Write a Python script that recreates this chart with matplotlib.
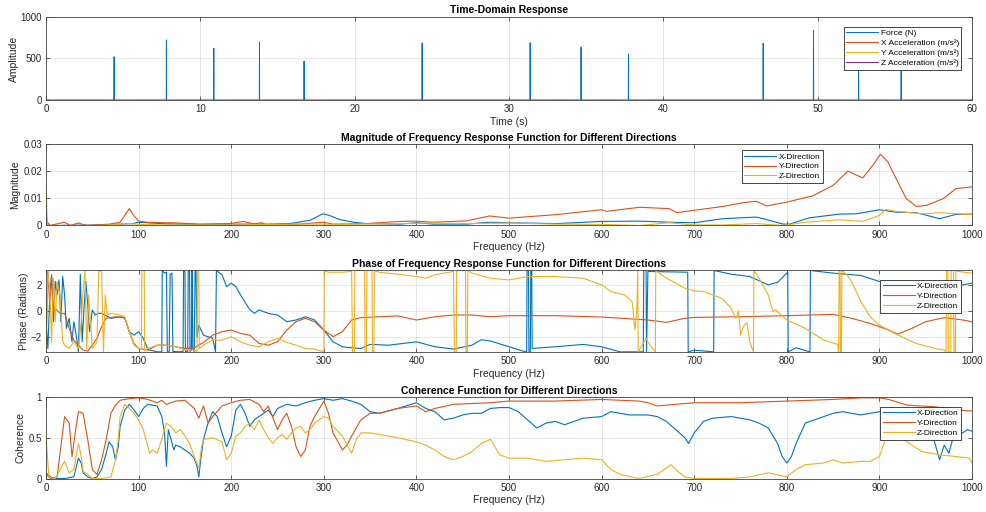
import matplotlib
matplotlib.use("Agg")
import matplotlib.pyplot as plt

plt.rcParams['font.family'] = ['Liberation Sans', 'DejaVu Sans']

# colours (MATLAB default order)
C_BLUE = '#0072BD'
C_ORANGE = '#D95319'
C_YELLOW = '#EDB120'
C_PURPLE = '#7E2F8E'
TXT = '#262626'

# ---------------- time domain ----------------
hit_times = [4.41, 7.80, 10.87, 13.83, 16.72, 24.37, 31.37, 34.67, 37.74, 46.47, 49.73, 52.65, 55.41]
hit_force = [520, 723, 622, 699, 467, 687, 690, 638, 552, 683, 837, 600, 640]
acc_t = [0, 60]
acc_x = [0, 0]
acc_y = [0, 0]
acc_z = [0, 0]
time_labels = ['Force (N)', 'X Acceleration (m/s\u00b2)', 'Y Acceleration (m/s\u00b2)', 'Z Acceleration (m/s\u00b2)']

# ---------------- FRF magnitude ----------------
mag_x_f = [0, 2, 58, 94, 100, 109, 130, 166, 202, 238, 263, 285, 299, 306, 317, 332, 346, 382, 400, 418, 454,
           479, 500, 551, 600, 641, 673, 700, 731, 767, 778, 796, 803, 824, 857, 875, 900, 918, 940, 965, 983, 1000]
mag_x = [0.0043, 0.0, 0.0002, 0.0007, 0.0012, 0.001, 0.0006, 0.0004, 0.0005, 0.0005, 0.0007, 0.0019, 0.0043,
         0.0037, 0.0022, 0.0012, 0.0007, 0.0005, 0.001, 0.0005, 0.0005, 0.0012, 0.001, 0.0007, 0.0015, 0.0016,
         0.0012, 0.001, 0.0025, 0.0031, 0.0022, 0.0005, 0.0005, 0.0028, 0.0042, 0.0043, 0.0058, 0.0049, 0.0047,
         0.0025, 0.0041, 0.0042]
mag_y_f = [0, 4, 20, 26, 35, 44, 69, 80, 85, 90, 94, 100, 109, 127, 137, 166, 199, 213, 224, 233, 238, 274, 299,
           310, 346, 382, 400, 418, 454, 479, 500, 551, 600, 605, 641, 673, 681, 700, 731, 753, 767, 778, 800, 828,
           850, 866, 882, 893, 901, 909, 918, 929, 940, 951, 969, 983, 1000]
mag_y = [0.002, 0.0, 0.0012, 0.0, 0.0009, 0.0, 0.0005, 0.0012, 0.0037, 0.0062, 0.004, 0.0016, 0.0012, 0.001,
         0.001, 0.0005, 0.0007, 0.0015, 0.0006, 0.001, 0.0002, 0.0005, 0.0012, 0.0005, 0.0007, 0.0015, 0.0016,
         0.0012, 0.0017, 0.0035, 0.0027, 0.004, 0.0058, 0.0052, 0.0067, 0.0062, 0.0047, 0.0056, 0.007, 0.0084,
         0.0089, 0.0072, 0.0086, 0.0109, 0.0148, 0.02, 0.0175, 0.0222, 0.0262, 0.0235, 0.0173, 0.0099, 0.007,
         0.0074, 0.0099, 0.0136, 0.0142]
mag_z_f = [0, 1.4, 58, 90, 101, 130, 202, 274, 299, 310, 382, 418, 454, 479, 500, 551, 600, 641, 673, 700, 731,
           767, 796, 820, 857, 882, 900, 907, 918, 947, 965, 1000]
mag_z = [0.0148, 0.0, 0.0, 0.0007, 0.0004, 0.0002, 0.0002, 0.0005, 0.0005, 0.0004, 0.0007, 0.0009, 0.0007,
         0.0008, 0.0009, 0.0005, 0.0004, 0.0, 0.001, 0.0002, 0.0002, 0.0007, 0.0, 0.0012, 0.0021, 0.0015, 0.0037,
         0.0059, 0.0052, 0.0043, 0.0047, 0.004]

# ---------------- FRF phase ----------------
ph_x_f = [0, 2, 4, 6, 8, 10, 12, 14, 16, 18, 20, 22, 25, 28, 30, 32, 35, 37, 39, 41, 43, 45, 47, 50, 53, 56, 60,
          70, 80, 85, 90, 95, 100, 105, 110, 120, 125, 125.5, 128, 130, 131, 133, 134, 136, 137, 145, 148, 148.5,
          150, 150.5, 153, 153.5, 155, 155.5, 157, 157.5, 158, 158.5, 160, 161, 162, 163, 165, 170, 180, 183, 184,
          190, 195, 200, 205, 210, 220, 225, 230, 240, 250, 260, 270, 280, 290, 300, 310, 320, 330, 340, 350, 370,
          400, 420, 440, 460, 470, 480, 500, 515, 519, 519.5, 521, 521.5, 523, 523.5, 524.5, 525, 550, 580, 600,
          620, 645, 645.5, 648, 648.5, 650, 690, 693, 693.5, 700, 720, 721, 721.5, 740, 760, 780, 790, 800, 801,
          801.5, 810, 825, 825.5, 850, 880, 900, 920, 940, 960, 980, 1000]
ph_x = [-0.82, -2.87, 1.23, 2.77, -0.82, 2.26, 1.23, 2.38, -0.82, 2.64, 1.23, -1.33, -0.56, -2.36, -0.82, -1.59,
        -3.13, 2.82, -2.36, 0.2, 2.26, 0.46, -1.59, 0.08, -0.31, -0.18, -0.18, -0.56, -0.44, -0.56, -1.59, -1.85,
        -1.59, -2.1, -2.95, -3.13, -3.13, 3.1, 2.9, 2.97, -3.13, -3.13, 2.8, 2.9, -3.1, -3.13, -3.1, 3.1, 3.0,
        -3.1, -3.1, 3.1, 3.1, -3.1, -3.0, 3.1, 3.0, -2.9, -3.1, 3.1, 3.0, -2.0, -1.1, -1.85, -2.1, -3.13, 3.1,
        2.77, 1.87, 2.13, 1.87, 1.23, 0.1, -0.18, 0.08, -0.18, -0.31, -0.82, -0.69, -0.44, -0.69, -1.46, -2.36,
        -2.74, -2.82, -2.87, -2.56, -2.62, -2.36, -2.74, -2.92, -2.62, -2.2, -2.3, -2.74, -3.07, -3.13, 3.1, 3.1,
        -3.13, -3.13, 3.1, 3.1, -2.87, -2.74, -2.56, -2.74, -3.13, -3.13, 3.1, 3.1, -3.13, 3.03, 2.97, 2.97,
        -3.13, -3.0, -3.13, -3.13, 3.1, 2.82, 2.64, 2.0, 2.2, 2.9, 3.0, -3.13, -2.82, -3.13, 3.1, 2.9, 2.72,
        2.26, 1.87, 2.0, 2.13, 1.87, 2.13]
ph_y_f = [0, 2, 4, 6, 8, 10, 15, 20, 25, 30, 35, 40, 45, 50, 55, 60, 65, 75, 85, 90, 95, 100, 110, 120, 130, 150,
          160, 170, 180, 190, 200, 210, 220, 230, 240, 250, 260, 270, 280, 290, 300, 310, 320, 330, 340, 360, 380,
          400, 420, 440, 460, 480, 500, 550, 600, 650, 670, 690, 700, 750, 800, 850, 870, 890, 910, 920, 935, 950,
          970, 990, 1000]
ph_y = [-2.62, 3.03, 0.46, 2.77, -0.05, 0.2, -0.18, -0.18, -1.33, -2.23, -2.62, -3.0, -3.08, -2.62, -2.1, -1.2,
        -0.56, -0.44, -0.51, -1.59, -2.49, -2.87, -3.0, -2.62, -2.62, -2.87, -2.82, -2.41, -1.85, -1.59, -1.46,
        -1.72, -1.85, -2.49, -2.62, -2.36, -1.46, -0.82, -0.56, -0.82, -1.46, -1.97, -1.59, -0.69, -0.51, -0.44,
        -0.38, -0.69, -0.44, -0.31, -0.31, -0.44, -0.36, -0.36, -0.46, -0.69, -0.87, -0.56, -0.49, -0.44, -0.36,
        -0.26, -0.56, -0.95, -1.46, -1.77, -1.33, -0.82, -0.51, -0.69, -0.82]
ph_z_f = [0, 2, 4, 6, 8, 10, 12, 15, 18, 20, 25, 30, 35, 38, 40, 42, 44, 46, 50, 55, 57, 60, 62, 64, 66, 70, 80,
          85, 90, 95, 100, 103, 103.5, 106, 106.5, 110, 120, 130, 140, 150, 160, 163, 163.5, 165, 165.5, 170, 180,
          190, 200, 210, 220, 230, 240, 250, 260, 270, 280, 290, 300, 300.5, 305, 320, 330, 331, 333, 333.5, 344,
          344.5, 346, 346.5, 352, 352.5, 354, 354.5, 360, 380, 400, 410, 420, 440, 441, 443, 443.5, 453, 453.5,
          455, 455.5, 460, 480, 500, 520, 550, 580, 600, 610, 625, 633, 636, 638, 639, 639.5, 648, 652, 658,
          658.5, 670, 680, 690, 700, 710, 720, 730, 740, 745, 748, 750, 753, 757, 760, 764, 764.5, 770, 780, 785,
          788, 790, 800, 820, 840, 855, 856, 856.5, 857.5, 858, 859, 859.5, 865, 870, 880, 890, 900, 920, 940,
          960, 970, 972, 972.5, 974, 974.5, 977, 977.5, 980, 980.5, 982, 982.5, 985, 1000]
ph_z = [-3.13, 2.77, 1.74, -2.36, 2.51, -0.82, 2.26, 1.23, -2.36, -2.62, -2.87, -2.36, -2.87, -0.82, 1.49, 3.1,
        -2.87, 1.23, -2.87, -2.36, 3.1, 3.03, -3.13, 1.23, -0.31, -0.18, -0.31, -0.44, -1.59, -2.62, -2.87, -2.9,
        3.1, 3.1, -3.0, -2.87, -2.62, -2.62, -2.74, -2.95, -3.0, -3.13, 3.1, 3.0, -2.9, -2.62, -2.23, -2.23,
        -1.97, -2.36, -2.62, -2.74, -2.36, -2.1, -2.41, -2.62, -2.87, -2.92, -3.13, 3.1, 2.97, 2.97, 3.03, -3.13,
        -3.1, 3.1, 3.1, -3.1, -3.1, 3.1, 3.1, -3.1, -3.1, 3.1, 2.97, 2.82, 2.64, 2.51, 2.77, 3.03, -3.13, -3.13,
        3.1, 3.1, -3.13, -3.13, 3.1, 2.9, 2.51, 2.38, 2.64, 2.64, 2.51, 2.0, 1.49, 1.23, 0.7, -1.46, 0.0, 3.1,
        -3.13, -2.1, -2.6, -3.13, 3.1, 2.51, 2.13, 1.74, 1.54, 1.49, 1.23, 0.97, 0.2, -0.56, 0.0, -1.85, -1.2,
        -0.9, -2.36, -3.13, 3.1, 2.51, 1.23, -0.05, 0.1, -0.05, -0.69, -1.33, -2.23, -2.56, -3.13, 3.1, 3.1,
        -3.13, -3.13, 3.1, 2.77, 2.26, 0.72, -0.44, -1.08, -1.85, -2.49, -2.87, -3.0, -3.13, 3.1, 3.1, -3.13,
        -3.13, 3.1, 3.1, -3.13, -3.13, 3.1, 3.03, 2.9]

# ---------------- coherence ----------------
coh_x_f = [0, 5, 10, 20, 30, 35, 38, 40, 45, 50, 55, 60, 65, 68, 72, 75, 78, 80, 85, 90, 95, 100, 105, 110, 120,
           125, 128, 130, 132, 135, 138, 140, 145, 150, 155, 160, 163, 165, 167, 170, 175, 180, 185, 190, 195,
           200, 205, 210, 215, 220, 225, 230, 240, 245, 250, 260, 270, 280, 290, 300, 310, 320, 330, 340, 350,
           360, 380, 400, 410, 420, 430, 440, 450, 460, 470, 480, 490, 500, 510, 520, 530, 540, 550, 560, 570,
           580, 600, 610, 630, 650, 660, 670, 680, 690, 694, 700, 710, 720, 740, 760, 770, 780, 790, 795, 800,
           805, 810, 820, 840, 850, 860, 870, 880, 900, 920, 940, 955, 960, 965, 970, 975, 980, 990, 995, 1000]
coh_x = [0.07, 0.02, 0.0, 0.0, 0.02, 0.25, 0.19, 0.07, 0.02, 0.0, 0.02, 0.11, 0.31, 0.45, 0.39, 0.23, 0.39,
         0.64, 0.84, 0.91, 0.84, 0.76, 0.86, 0.91, 0.89, 0.76, 0.56, 0.15, 0.6, 0.48, 0.35, 0.41, 0.39, 0.35,
         0.31, 0.25, 0.15, 0.02, 0.23, 0.48, 0.68, 0.82, 0.76, 0.56, 0.39, 0.52, 0.84, 0.91, 0.8, 0.64, 0.72,
         0.76, 0.84, 0.76, 0.86, 0.91, 0.89, 0.93, 0.96, 0.98, 0.96, 0.98, 0.95, 0.91, 0.82, 0.8, 0.86, 0.93,
         0.86, 0.82, 0.72, 0.74, 0.78, 0.8, 0.8, 0.86, 0.87, 0.87, 0.82, 0.72, 0.62, 0.68, 0.7, 0.66, 0.7, 0.74,
         0.76, 0.82, 0.78, 0.78, 0.76, 0.7, 0.6, 0.5, 0.43, 0.56, 0.7, 0.74, 0.76, 0.72, 0.68, 0.62, 0.43, 0.27,
         0.19, 0.27, 0.43, 0.68, 0.76, 0.8, 0.82, 0.8, 0.78, 0.82, 0.75, 0.7, 0.6, 0.43, 0.23, 0.41, 0.31, 0.52,
         0.56, 0.6, 0.58]
coh_y_f = [0, 5, 12, 20, 25, 28, 32, 35, 40, 45, 50, 55, 60, 65, 70, 75, 80, 90, 100, 110, 120, 125, 130, 140,
           150, 160, 165, 170, 175, 180, 190, 200, 210, 220, 230, 235, 240, 250, 255, 260, 265, 270, 275, 280,
           285, 290, 300, 305, 310, 320, 325, 330, 340, 350, 360, 380, 400, 410, 420, 440, 460, 480, 500, 550,
           600, 640, 650, 660, 680, 700, 750, 800, 850, 880, 900, 910, 930, 960, 995, 1000]
coh_y = [0.05, 0.0, 0.02, 0.76, 0.68, 0.27, 0.6, 0.82, 0.8, 0.48, 0.11, 0.05, 0.23, 0.48, 0.8, 0.9, 0.96, 0.98,
         0.99, 0.97, 0.93, 0.96, 0.91, 0.95, 0.96, 0.86, 0.74, 0.89, 0.68, 0.76, 0.89, 0.93, 0.96, 0.97, 0.91,
         0.82, 0.89, 0.6, 0.72, 0.8, 0.64, 0.39, 0.27, 0.35, 0.64, 0.76, 0.95, 0.8, 0.56, 0.35, 0.41, 0.52, 0.72,
         0.8, 0.8, 0.86, 0.89, 0.82, 0.86, 0.91, 0.92, 0.93, 0.95, 0.95, 0.97, 0.95, 0.93, 0.89, 0.91, 0.93,
         0.93, 0.95, 0.97, 0.99, 0.99, 0.97, 0.9, 0.88, 0.83, 0.83]
coh_z_f = [0, 3, 10, 20, 25, 30, 35, 38, 40, 45, 50, 60, 70, 75, 78, 80, 85, 90, 95, 100, 105, 110, 112, 115,
           120, 125, 130, 135, 140, 145, 150, 155, 160, 165, 168, 170, 180, 190, 195, 200, 205, 210, 215, 220,
           225, 230, 235, 240, 245, 250, 255, 260, 265, 270, 275, 280, 285, 290, 300, 305, 310, 320, 330, 335,
           340, 350, 360, 380, 400, 410, 420, 430, 440, 450, 460, 470, 480, 490, 500, 520, 540, 560, 580, 600,
           610, 620, 640, 660, 670, 675, 680, 690, 700, 720, 740, 760, 780, 800, 810, 820, 840, 850, 860, 880,
           890, 900, 905, 910, 915, 930, 946, 965, 983, 997, 1000]
coh_z = [0.52, 0.02, 0.0, 0.21, 0.07, 0.11, 0.43, 0.27, 0.09, 0.05, 0.0, 0.0, 0.02, 0.23, 0.48, 0.76, 0.91,
         0.86, 0.8, 0.72, 0.6, 0.39, 0.31, 0.35, 0.31, 0.48, 0.68, 0.64, 0.56, 0.6, 0.52, 0.43, 0.27, 0.13,
         0.39, 0.48, 0.5, 0.45, 0.23, 0.31, 0.52, 0.56, 0.64, 0.68, 0.6, 0.72, 0.6, 0.5, 0.43, 0.5, 0.54, 0.48,
         0.56, 0.62, 0.64, 0.56, 0.6, 0.68, 0.76, 0.74, 0.64, 0.52, 0.31, 0.48, 0.56, 0.56, 0.54, 0.5, 0.45,
         0.41, 0.35, 0.27, 0.23, 0.27, 0.33, 0.43, 0.48, 0.29, 0.25, 0.25, 0.21, 0.23, 0.25, 0.23, 0.11, 0.05,
         0.0, 0.05, 0.13, 0.17, 0.11, 0.02, 0.0, 0.0, 0.0, 0.02, 0.07, 0.02, 0.11, 0.17, 0.19, 0.23, 0.19, 0.21,
         0.21, 0.27, 0.43, 0.7, 0.6, 0.45, 0.33, 0.29, 0.27, 0.25, 0.19]

dir_labels = ['X-Direction', 'Y-Direction', 'Z-Direction']

time_ticks = [0, 10, 20, 30, 40, 50, 60]
freq_ticks = [0, 100, 200, 300, 400, 500, 600, 700, 800, 900, 1000]
amp_ticks = [0, 500, 1000]
mag_ticks = [0, 0.01, 0.02, 0.03]
mag_ticklabels = ['0', '0.01', '0.02', '0.03']
phase_ticks = [-2, 0, 2]
coh_ticks = [0, 0.5, 1]
coh_ticklabels = ['0', '0.5', '1']


def matlab_axes(ax, xlim, ylim, xticks, yticks, yticklabels=None):
    ax.set_xlim(*xlim)
    ax.set_ylim(*ylim)
    ax.set_xticks(xticks)
    ax.set_yticks(yticks)
    if yticklabels is not None:
        ax.set_yticklabels(yticklabels)
    ax.grid(True, color=TXT, alpha=0.15, linewidth=0.5)
    ax.set_axisbelow(True)
    ax.tick_params(direction='in', top=True, right=True, length=3, width=0.5,
                   labelsize=7, colors=TXT, pad=3)
    for sp in ax.spines.values():
        sp.set_linewidth(0.6)
        sp.set_color('#404040')


def matlab_legend(ax, labels, **kw):
    leg = ax.legend(labels, fontsize=6, frameon=True, fancybox=False, framealpha=1,
                    edgecolor='#262626', handlelength=3.8, handletextpad=0.3,
                    labelspacing=0.25, borderpad=0.3, **kw)
    leg.get_frame().set_linewidth(0.6)
    return leg


fig = plt.figure(figsize=(9.86, 5.12), dpi=100)
ax1 = fig.add_axes([0.0467, 0.8047, 0.9391, 0.1621])
ax2 = fig.add_axes([0.0467, 0.5596, 0.9391, 0.1592])
ax3 = fig.add_axes([0.0467, 0.3125, 0.9391, 0.1602])
ax4 = fig.add_axes([0.0467, 0.0654, 0.9391, 0.1592])

# time domain: thin impulses
ft, fv = [0], [0]
for t, h in zip(hit_times, hit_force):
    ft += [t - 0.01, t, t + 0.01]
    fv += [0, h, 0]
ft.append(60)
fv.append(0)
ax1.plot(ft, fv, color=C_BLUE, lw=0.7)
ax1.plot(acc_t, acc_x, color=C_ORANGE, lw=0.8)
ax1.plot(acc_t, acc_y, color=C_YELLOW, lw=0.8)
ax1.plot(acc_t, acc_z, color=C_PURPLE, lw=0.8)
matlab_axes(ax1, (0, 60), (0, 1000), time_ticks, amp_ticks)
ax1.set_title('Time-Domain Response', fontsize=7.5, fontweight='bold', pad=3)
ax1.set_xlabel('Time (s)', fontsize=7.5, color=TXT, labelpad=2)
ax1.set_ylabel('Amplitude', fontsize=7.5, color=TXT, labelpad=1)
matlab_legend(ax1, time_labels, loc='upper right', bbox_to_anchor=(0.993, 0.93))

ax2.plot(mag_x_f, mag_x, color=C_BLUE, lw=0.8)
ax2.plot(mag_y_f, mag_y, color=C_ORANGE, lw=0.8)
ax2.plot(mag_z_f, mag_z, color=C_YELLOW, lw=0.8)
matlab_axes(ax2, (0, 1000), (0, 0.03), freq_ticks, mag_ticks, mag_ticklabels)
ax2.set_title('Magnitude of Frequency Response Function for Different Directions',
              fontsize=7.5, fontweight='bold', pad=2.5)
ax2.set_xlabel('Frequency (Hz)', fontsize=7.5, color=TXT, labelpad=2)
ax2.set_ylabel('Magnitude', fontsize=7.5, color=TXT, labelpad=2)
matlab_legend(ax2, dir_labels, loc='upper center', bbox_to_anchor=(0.795, 0.975))

ax3.plot(ph_x_f, ph_x, color=C_BLUE, lw=0.8)
ax3.plot(ph_y_f, ph_y, color=C_ORANGE, lw=0.8)
ax3.plot(ph_z_f, ph_z, color=C_YELLOW, lw=0.8)
matlab_axes(ax3, (0, 1000), (-3.1416, 3.1416), freq_ticks, phase_ticks)
ax3.set_title('Phase of Frequency Response Function for Different Directions',
              fontsize=7.5, fontweight='bold', pad=2.5)
ax3.set_xlabel('Frequency (Hz)', fontsize=7.5, color=TXT, labelpad=2)
ax3.set_ylabel('Phase (Radians)', fontsize=7.5, color=TXT, labelpad=1)
matlab_legend(ax3, dir_labels, loc='upper right', bbox_to_anchor=(0.993, 0.93))

ax4.plot(coh_x_f, coh_x, color=C_BLUE, lw=0.8)
ax4.plot(coh_y_f, coh_y, color=C_ORANGE, lw=0.8)
ax4.plot(coh_z_f, coh_z, color=C_YELLOW, lw=0.8)
matlab_axes(ax4, (0, 1000), (0, 1), freq_ticks, coh_ticks, coh_ticklabels)
ax4.set_title('Coherence Function for Different Directions', fontsize=7.5, fontweight='bold', pad=2.5)
ax4.set_xlabel('Frequency (Hz)', fontsize=7.5, color=TXT, labelpad=2)
ax4.set_ylabel('Coherence', fontsize=7.5, color=TXT, labelpad=2)
matlab_legend(ax4, dir_labels, loc='upper right', bbox_to_anchor=(0.993, 0.93))

fig.savefig('out.png', dpi=100, facecolor='white')
